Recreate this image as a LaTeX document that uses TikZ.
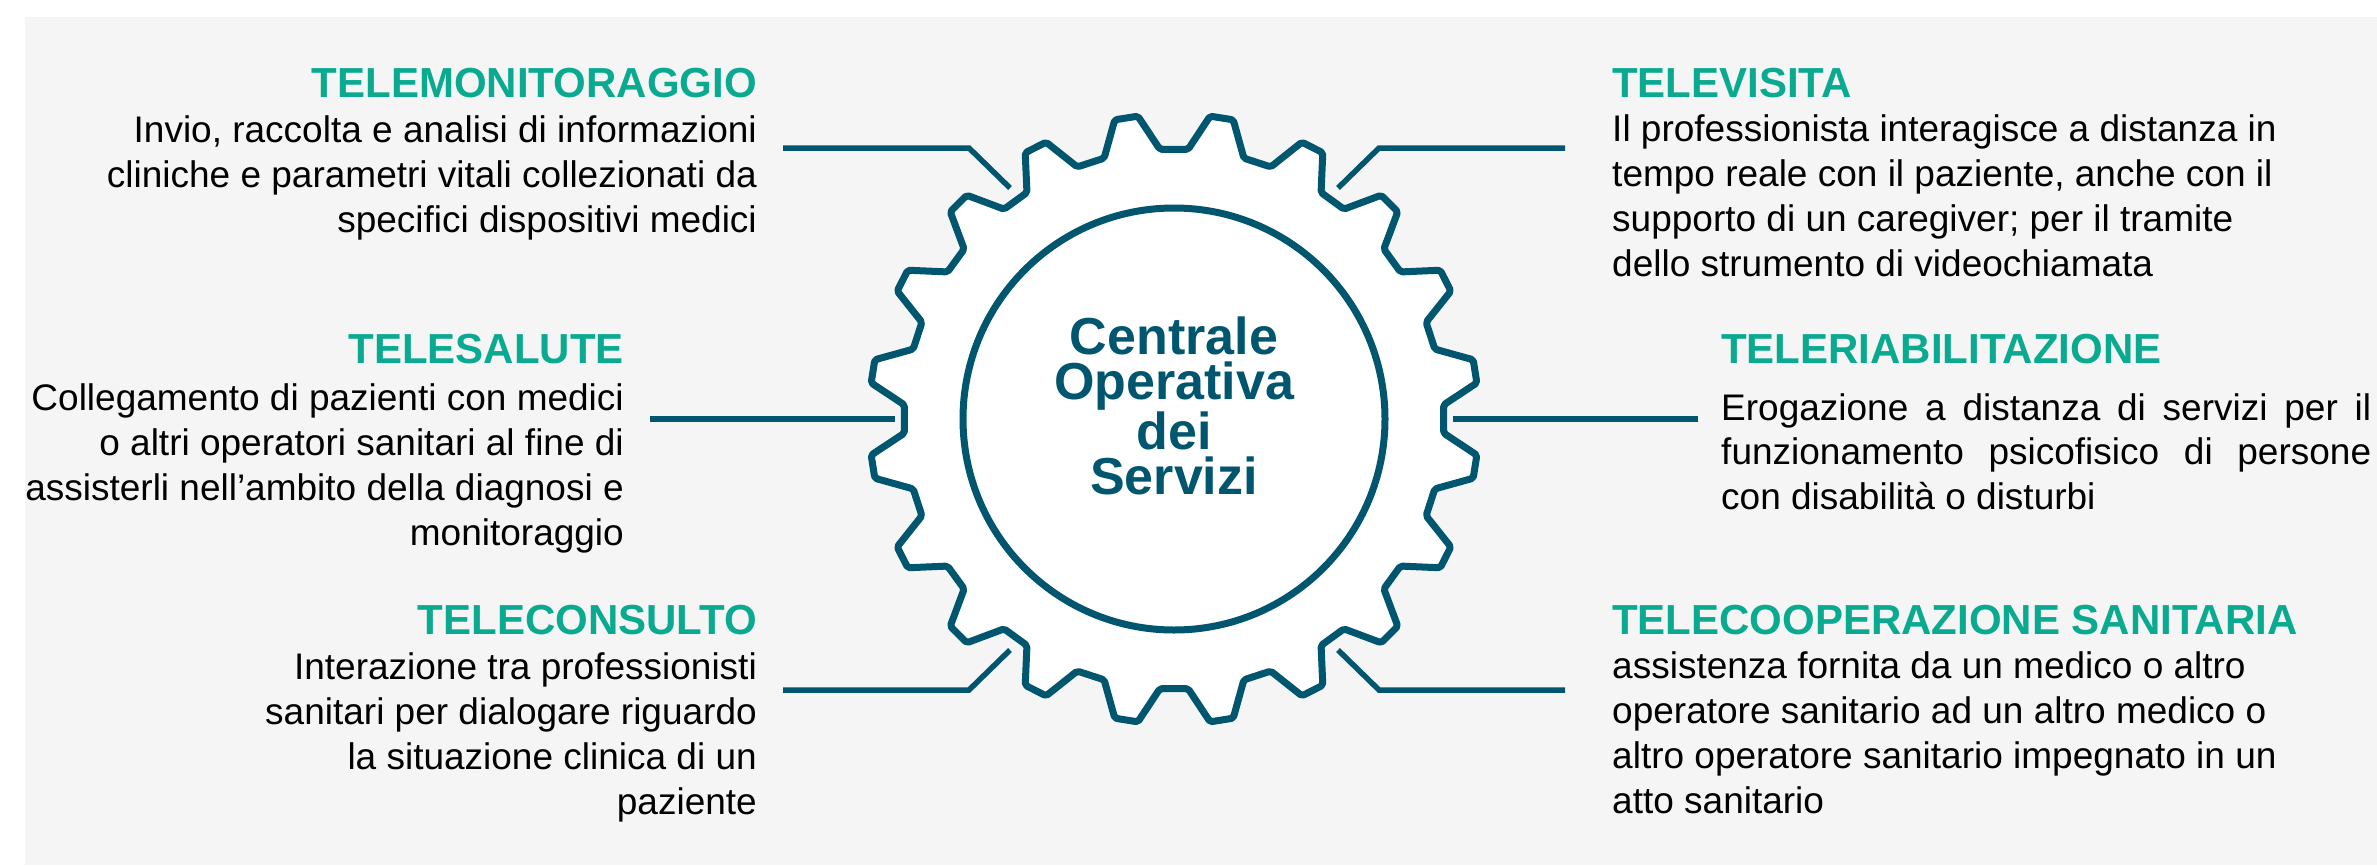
\documentclass[tikz,border=0pt]{standalone}
\usepackage{fontspec}
\setmainfont{Liberation Sans}
\usepackage{tikz}
\definecolor{petrol}{RGB}{0,86,110}
\definecolor{mint}{RGB}{10,170,145}
\definecolor{paper}{RGB}{245,245,245}

\begin{document}
\begin{tikzpicture}[x=1pt, y=-1pt,
        head/.style={inner sep=0pt, text=mint, font=\fontsize{42}{45}\selectfont\bfseries},
        body/.style={inner sep=0pt, font=\fontsize{37}{44.7}\selectfont},
        link/.style={draw=petrol, line width=5.5pt},
        cogline/.style={draw=petrol, fill=white, line width=7pt, line join=round, rounded corners=2pt}]
    \useasboundingbox (0,0) rectangle (2377,865);
    \fill[paper] (25,17) rectangle (2377,865);
    \coordinate (cog) at (1174,419);
    \begin{scope}[shift={(cog)}]
        \draw[cogline] (-3:270) foreach \t in {9,27,...,333} {-- ({\t-6}:270) -- ({\t-2.2}:305) -- ({\t+2.2}:305) -- ({\t+6}:270)}
            -- (345:270) -- (348.8:305) -- (353.2:305) -- cycle;
        \draw[cogline] (0,0) circle[radius=211pt];
    \end{scope}
    \node[inner sep=0pt, align=center, text=petrol, font=\fontsize{52}{45}\selectfont\bfseries, anchor=base] (centrale) at (1174,494) {Centrale\\Operativa\\dei\\Servizi};

    \coordinate (tla) at (783,148);
    \coordinate (tlb) at (969,148);
    \coordinate (tlc) at (1010,188);
    \coordinate (tra) at (1565,148);
    \coordinate (trb) at (1379,148);
    \coordinate (trc) at (1338,188);
    \coordinate (mla) at (650,419);
    \coordinate (mlb) at (895,419);
    \coordinate (mra) at (1698,419);
    \coordinate (mrb) at (1453,419);
    \coordinate (bla) at (783,690);
    \coordinate (blb) at (969,690);
    \coordinate (blc) at (1010,650);
    \coordinate (bra) at (1565,690);
    \coordinate (brb) at (1379,690);
    \coordinate (brc) at (1338,650);
    \draw[link] (tla) -- (tlb) -- (tlc);
    \draw[link] (tra) -- (trb) -- (trc);
    \draw[link] (mla) -- (mlb);
    \draw[link] (mra) -- (mrb);
    \draw[link] (bla) -- (blb) -- (blc);
    \draw[link] (bra) -- (brb) -- (brc);

    \node[head, anchor=base east] (monit) at (757,97) {TELEMONITORAGGIO};
    \node[body, anchor=base east, align=right] (monittxt) at (757,232) {Invio, raccolta e analisi di informazioni\\cliniche e parametri vitali collezionati da\\specifici dispositivi medici};

    \node[head, anchor=base east] (salute) at (624,363) {TELESALUTE};
    \node[body, anchor=base east, align=right] (salutetxt) at (624,545) {Collegamento di pazienti con medici\\o altri operatori sanitari al fine di\\assisterli nell’ambito della diagnosi e\\monitoraggio};

    \node[head, anchor=base east] (consulto) at (757,634) {TELECONSULTO};
    \node[body, anchor=base east, align=right] (consultotxt) at (757,814) {Interazione tra professionisti\\sanitari per dialogare riguardo\\la situazione clinica di un\\paziente};

    \node[head, anchor=base west] (visita) at (1612,97) {TELEVISITA};
    \node[body, anchor=base west, align=left] (visitatxt) at (1612,276) {Il professionista interagisce a distanza in\\tempo reale con il paziente, anche con il\\supporto di un caregiver; per il tramite\\dello strumento di videochiamata};

    \node[head, anchor=base west] (riab) at (1721,363) {TELERIABILITAZIONE};
    \node[body, anchor=base west, text width=650pt, align=justify] (riabtxt) at (1721,420) {\hyphenpenalty=10000 Erogazione a distanza di servizi per il\linebreak funzionamento psicofisico di persone\linebreak con disabilità o disturbi};

    \node[head, anchor=base west] (coop) at (1612,634) {TELECOOPERAZIONE SANITARIA};
    \node[body, anchor=base west, align=left] (cooptxt) at (1612,813) {assistenza fornita da un medico o altro\\operatore sanitario ad un altro medico o\\altro operatore sanitario impegnato in un\\atto sanitario};
\end{tikzpicture}
\end{document}
